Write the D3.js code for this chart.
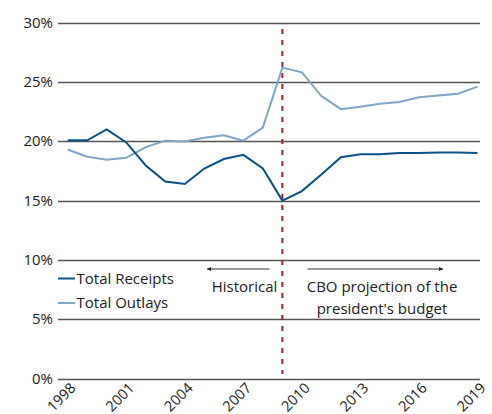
<!DOCTYPE html>
<html>
<head>
<meta charset="utf-8">
<script src="https://cdn.jsdelivr.net/npm/d3@7"></script>
<style>
  body { margin: 0; background: #fff; }
  svg { display: block; font-family: "Open Sans", sans-serif; }
</style>
</head>
<body>
<svg width="492" height="414"></svg>
<script>
var years = d3.range(1998, 2020),
    receipts = [20.08, 20.08, 20.99, 19.9, 17.96, 16.6, 16.4, 17.7, 18.5, 18.85, 17.7,
                15.0, 15.8, 17.2, 18.65, 18.9, 18.9, 19.0, 19.0, 19.05, 19.05, 19.0],
    outlays = [19.3, 18.7, 18.45, 18.6, 19.5, 20.05, 19.97, 20.3, 20.5, 20.05, 21.15,
               26.2, 25.8, 23.8, 22.7, 22.9, 23.15, 23.3, 23.7, 23.85, 24.0, 24.6],
    yTicks = [0, 5, 10, 15, 20, 25, 30],
    xTicks = [1998, 2001, 2004, 2007, 2010, 2013, 2016, 2019],
    splitYear = 2009;

var svg = d3.select("svg"),
    gridLeft = 58,
    gridRight = 480;

var x = d3.scaleLinear().domain([1998, 2019]).range([67.7, 477.5]),
    y = d3.scaleLinear().domain([0, 30]).range([378.7, 22.5]);

// gridlines
svg.append("g")
    .selectAll("line")
    .data(yTicks)
    .join("line")
    .attr("x1", gridLeft)
    .attr("x2", gridRight)
    .attr("y1", function(d) { return Math.round(y(d)) + 0.5; })
    .attr("y2", function(d) { return Math.round(y(d)) + 0.5; })
    .attr("stroke", "#555")
    .attr("stroke-width", 1.6);

// y labels
svg.append("g")
    .selectAll("text")
    .data(yTicks)
    .join("text")
    .attr("x", 53)
    .attr("y", function(d) { return y(d) + 5; })
    .attr("text-anchor", "end")
    .attr("font-size", 15)
    .attr("fill", "#222")
    .text(function(d) { return d + "%"; });

// x labels, rotated
svg.append("g")
    .selectAll("text")
    .data(xTicks)
    .join("text")
    .attr("transform", function(d) { return "translate(" + (x(d) + 9) + ",389) rotate(-45)"; })
    .attr("text-anchor", "end")
    .attr("font-size", 14.5)
    .attr("fill", "#222")
    .text(function(d) { return d; });

// split marker
svg.append("line")
    .attr("x1", x(splitYear))
    .attr("x2", x(splitYear))
    .attr("y1", 29)
    .attr("y2", 374)
    .attr("stroke", "#a52228")
    .attr("stroke-width", 2)
    .attr("stroke-dasharray", "5,6");

var line = d3.line()
    .x(function(d, i) { return x(years[i]); })
    .y(function(d) { return y(d); });

svg.append("path")
    .datum(outlays)
    .attr("d", line)
    .attr("fill", "none")
    .attr("stroke", "#7fa6c6")
    .attr("stroke-width", 2);

svg.append("path")
    .datum(receipts)
    .attr("d", line)
    .attr("fill", "none")
    .attr("stroke", "#0a5287")
    .attr("stroke-width", 2);

// legend
var legend = [
    {label: "Total Receipts", color: "#0a5287", y: 278.5},
    {label: "Total Outlays", color: "#7fa6c6", y: 303}
];
var lg = svg.append("g").selectAll("g").data(legend).join("g");
lg.append("line")
    .attr("x1", 58).attr("x2", 75)
    .attr("y1", function(d) { return d.y; })
    .attr("y2", function(d) { return d.y; })
    .attr("stroke", function(d) { return d.color; })
    .attr("stroke-width", 2);
lg.append("text")
    .attr("x", 76.5)
    .attr("y", function(d) { return d.y + 5; })
    .attr("font-size", 15)
    .attr("fill", "#222")
    .text(function(d) { return d.label; });

// arrows + annotations
svg.append("defs").append("marker")
    .attr("id", "head")
    .attr("viewBox", "0 0 10 10")
    .attr("refX", 10).attr("refY", 5)
    .attr("markerWidth", 5).attr("markerHeight", 4)
    .attr("orient", "auto")
    .append("path")
    .attr("d", "M0,0L10,5L0,10z")
    .attr("fill", "#222");

svg.append("line")
    .attr("x1", 269.5).attr("x2", 207)
    .attr("y1", 269).attr("y2", 269)
    .attr("stroke", "#333").attr("stroke-width", 1)
    .attr("marker-end", "url(#head)");
svg.append("line")
    .attr("x1", 307.5).attr("x2", 443)
    .attr("y1", 269).attr("y2", 269)
    .attr("stroke", "#333").attr("stroke-width", 1)
    .attr("marker-end", "url(#head)");

svg.append("text")
    .attr("x", 244.5).attr("y", 292)
    .attr("text-anchor", "middle")
    .attr("font-size", 15)
    .attr("fill", "#222")
    .text("Historical");

var cbo = svg.append("text")
    .attr("text-anchor", "middle")
    .attr("font-size", 15)
    .attr("fill", "#222");
cbo.append("tspan").attr("x", 382).attr("y", 292).text("CBO projection of the");
cbo.append("tspan").attr("x", 382).attr("y", 313.5).text("president's budget");
</script>
</body>
</html>
